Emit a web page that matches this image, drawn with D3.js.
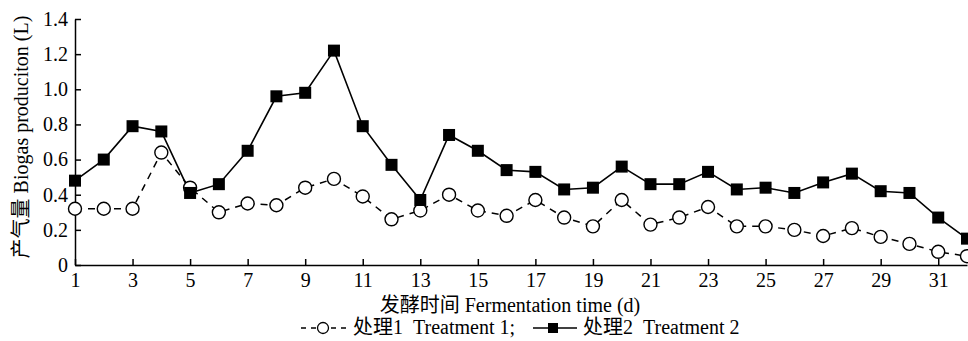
<!DOCTYPE html>
<html>
<head>
<meta charset="utf-8">
<script src="https://cdn.jsdelivr.net/npm/d3@7"></script>
<style>
  body { margin: 0; background: #fff; }
  svg { display: block; }
  .axis text { font-family: "Liberation Serif", "Times New Roman", serif; font-size: 20px; fill: #000; }
  .axis path, .axis line { stroke: #000; stroke-width: 1.5; }
  .lbl { font-family: "Liberation Serif", "Noto Sans CJK SC", serif; font-size: 20px; fill: #000; }
</style>
</head>
<body>
<div id="chart"></div>
<script>
// Fermentation days
const days = d3.range(1, 33);
const xTicks = [1, 3, 5, 7, 9, 11, 13, 15, 17, 19, 21, 23, 25, 27, 29, 31];
const yTicks = [0, 0.2, 0.4, 0.6, 0.8, 1.0, 1.2, 1.4];

// Treatment 1 (open circles, dashed)
const treatment1 = [0.32, 0.32, 0.32, 0.64, 0.44, 0.30, 0.35, 0.34, 0.44, 0.49,
  0.39, 0.26, 0.31, 0.40, 0.31, 0.28, 0.37, 0.27, 0.22, 0.37,
  0.23, 0.27, 0.33, 0.22, 0.22, 0.20, 0.165, 0.21, 0.16, 0.12,
  0.075, 0.05];

// Treatment 2 (filled squares, solid)
const treatment2 = [0.48, 0.60, 0.79, 0.76, 0.41, 0.46, 0.65, 0.96, 0.98, 1.22,
  0.79, 0.57, 0.37, 0.74, 0.65, 0.54, 0.53, 0.43, 0.44, 0.56,
  0.46, 0.46, 0.53, 0.43, 0.44, 0.41, 0.47, 0.52, 0.42, 0.41,
  0.27, 0.15];

const W = 968, H = 341;

const svg = d3.select("#chart")
  .append("svg")
  .attr("width", W)
  .attr("height", H);

const x = d3.scaleLinear().domain([1, 32]).range([75, 967]);
const y = d3.scaleLinear().domain([0, 1.4]).range([265, 19]);

// Axes
svg.append("g")
  .attr("class", "axis")
  .attr("transform", "translate(0,265)")
  .call(d3.axisBottom(x).tickValues(xTicks).tickSizeInner(-6).tickSizeOuter(0).tickPadding(8)
    .tickFormat(d3.format("d")));

svg.append("g")
  .attr("class", "axis")
  .attr("transform", "translate(75,0)")
  .call(d3.axisLeft(y).tickValues(yTicks).tickSizeInner(-6).tickSizeOuter(0).tickPadding(7)
    .tickFormat(d => d === 0 ? "0" : d3.format(".1f")(d)));

// Lines
const line = d3.line().x((d, i) => x(days[i])).y(d => y(d));

svg.append("path")
  .datum(treatment1)
  .attr("d", line)
  .attr("fill", "none")
  .attr("stroke", "#000")
  .attr("stroke-width", 1.5)
  .attr("stroke-dasharray", "7 6");

svg.append("path")
  .datum(treatment2)
  .attr("d", line)
  .attr("fill", "none")
  .attr("stroke", "#000")
  .attr("stroke-width", 1.6);

// Markers
svg.selectAll(".c1")
  .data(treatment1)
  .enter()
  .append("circle")
  .attr("cx", (d, i) => x(days[i]))
  .attr("cy", d => y(d))
  .attr("r", 6.5)
  .attr("fill", "#fff")
  .attr("stroke", "#000")
  .attr("stroke-width", 1.4);

svg.selectAll(".s2")
  .data(treatment2)
  .enter()
  .append("rect")
  .attr("x", (d, i) => x(days[i]) - 6)
  .attr("y", d => y(d) - 6)
  .attr("width", 12)
  .attr("height", 12)
  .attr("fill", "#000");

// Axis titles
svg.append("text")
  .attr("class", "lbl")
  .attr("transform", "translate(28,137) rotate(-90)")
  .attr("text-anchor", "middle")
  .text("产气量 Biogas produciton (L)");

svg.append("text")
  .attr("class", "lbl")
  .attr("x", 510)
  .attr("y", 312)
  .attr("text-anchor", "middle")
  .text("发酵时间 Fermentation time (d)");

// Legend
const legend = svg.append("g").attr("transform", "translate(0,334)");

legend.append("line")
  .attr("x1", 301).attr("x2", 348).attr("y1", -6).attr("y2", -6)
  .attr("stroke", "#000").attr("stroke-width", 1.3).attr("stroke-dasharray", "5 5");
legend.append("circle")
  .attr("cx", 323).attr("cy", -6).attr("r", 5.5)
  .attr("fill", "#fff").attr("stroke", "#000").attr("stroke-width", 1.3);
legend.append("text")
  .attr("class", "lbl")
  .attr("x", 353)
  .attr("y", 0)
  .text("处理1\u00a0\u00a0Treatment 1;");

legend.append("line")
  .attr("x1", 533).attr("x2", 577).attr("y1", -6).attr("y2", -6)
  .attr("stroke", "#000").attr("stroke-width", 1.5);
legend.append("rect")
  .attr("x", 548).attr("y", -11).attr("width", 10).attr("height", 10)
  .attr("fill", "#000");
legend.append("text")
  .attr("class", "lbl")
  .attr("x", 583)
  .attr("y", 0)
  .text("处理2\u00a0\u00a0Treatment 2");
</script>
</body>
</html>
